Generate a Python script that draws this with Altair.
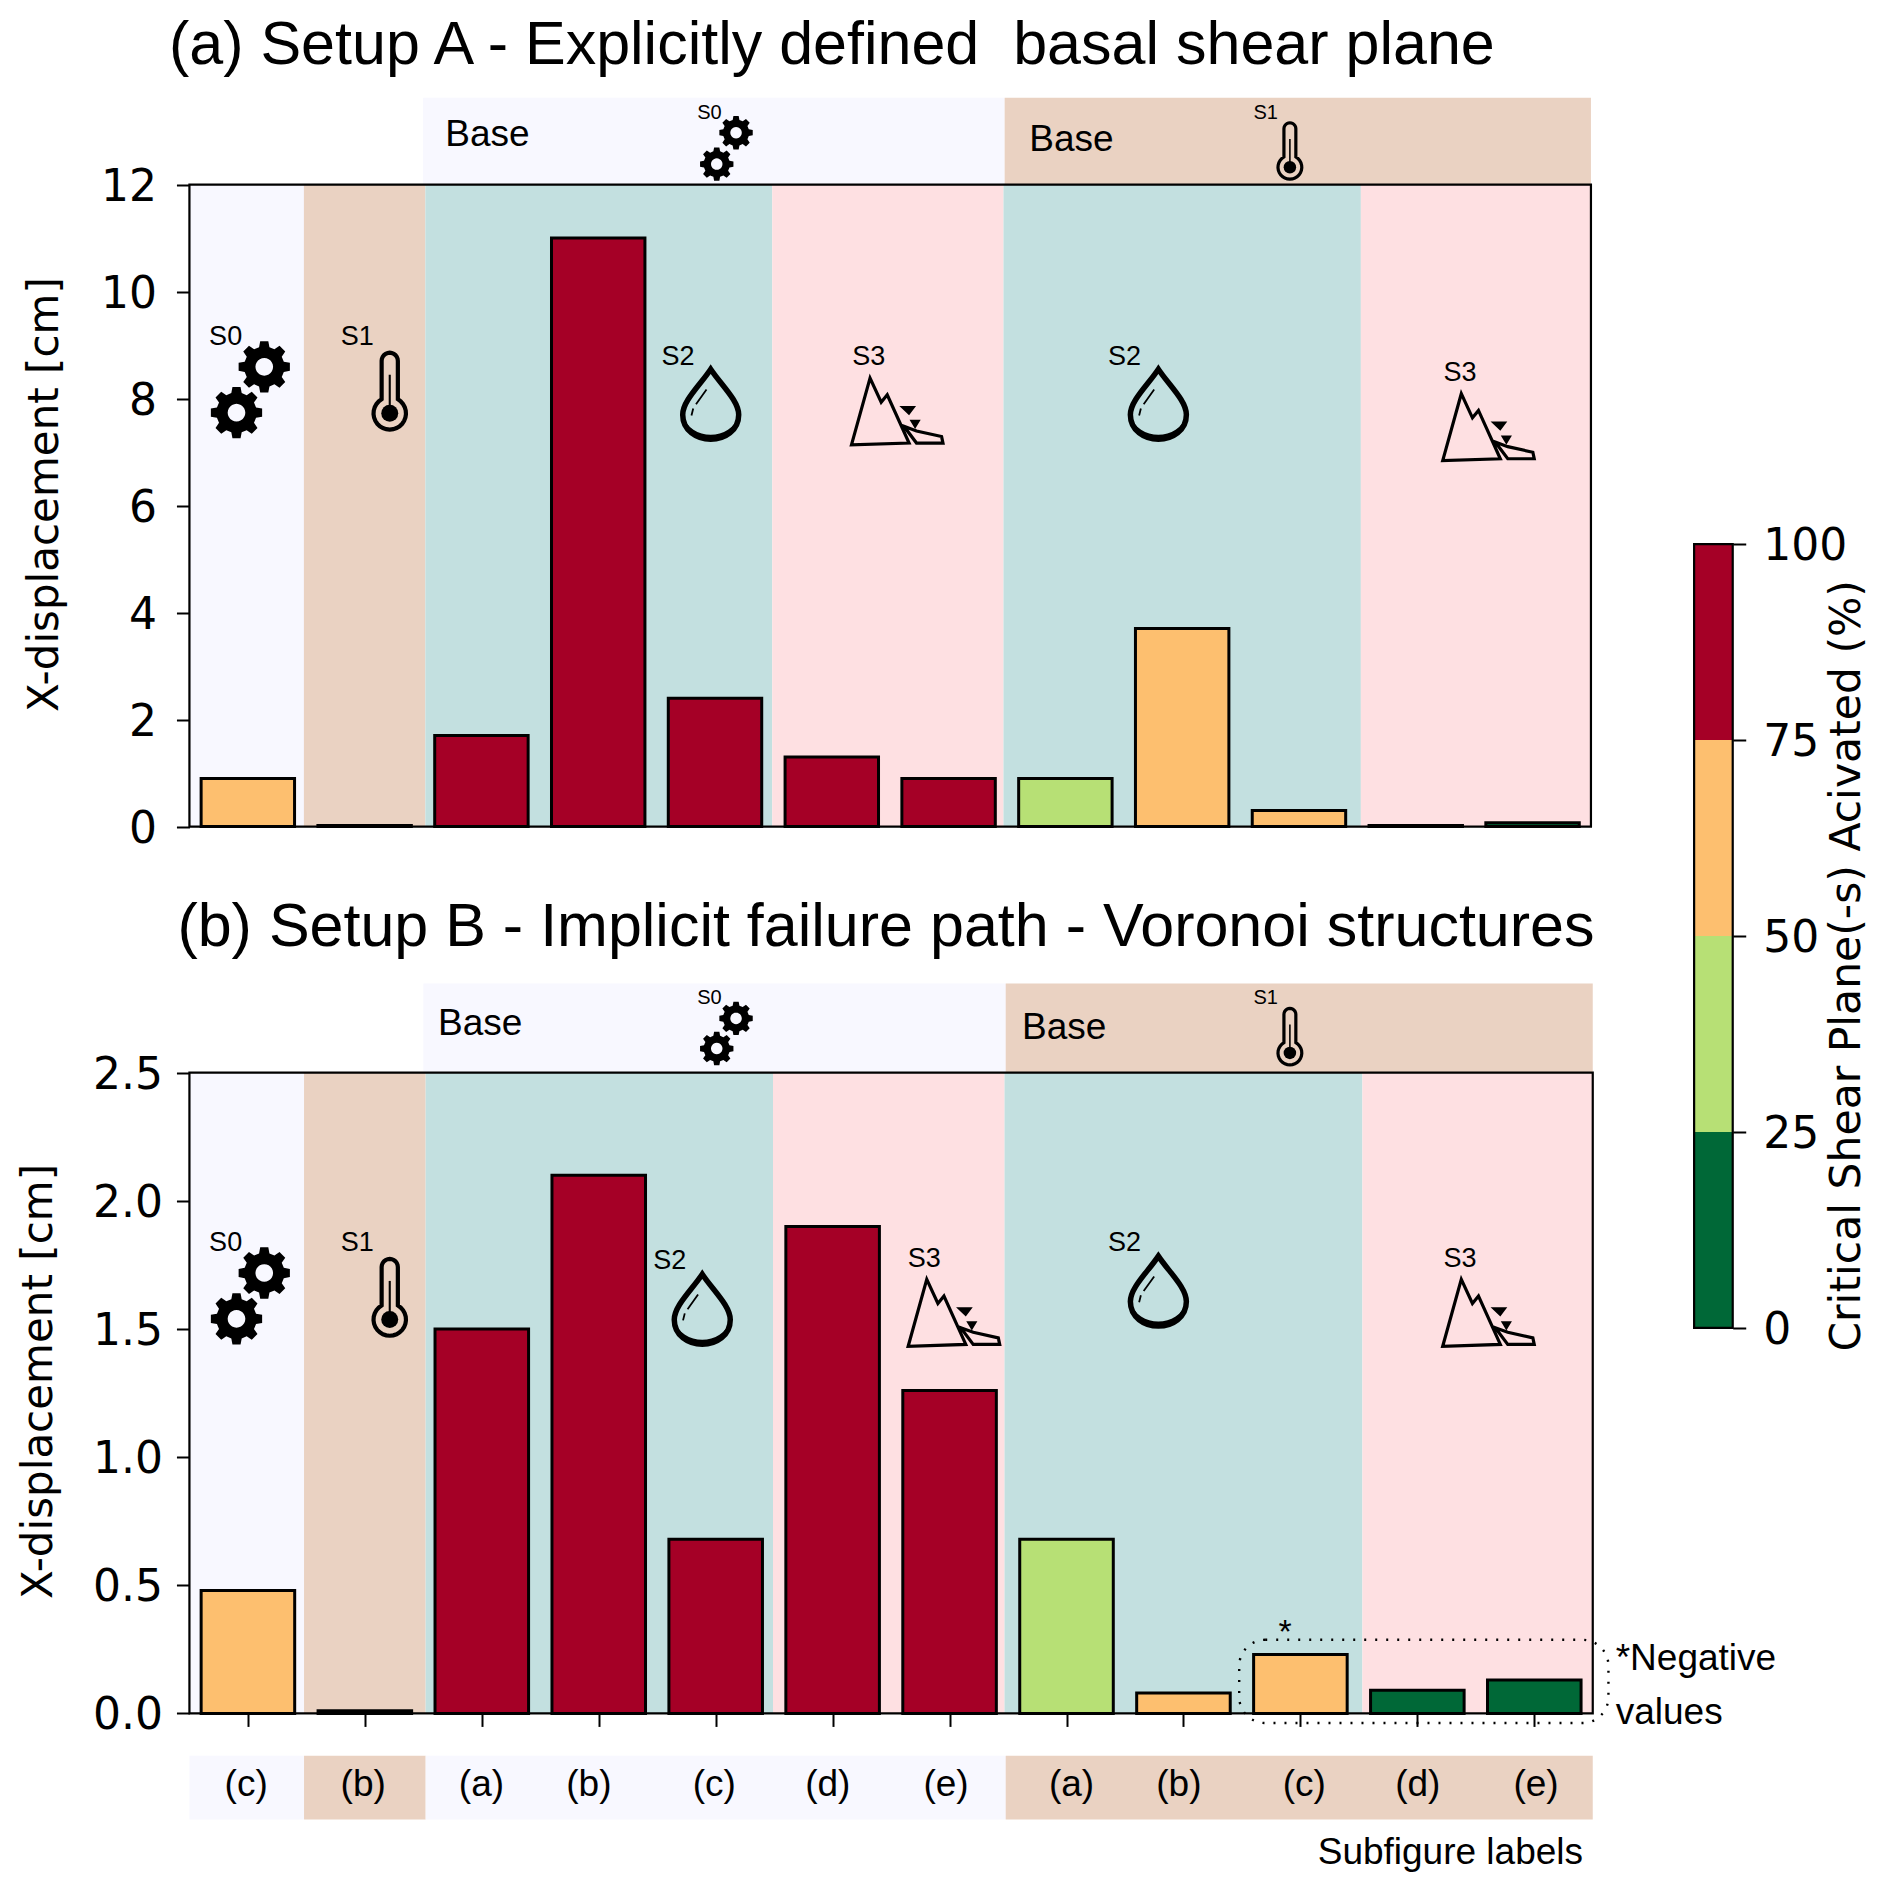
import math
import altair as alt
import pandas as pd

# ---- data -----------------------------------------------------------------
positions = list(range(12))
disp_a = [0.9, 0.02, 1.7, 11.0, 2.4, 1.3, 0.9, 0.9, 3.7, 0.3, 0.02, 0.07]
act_a = [60, 60, 90, 90, 90, 90, 90, 40, 60, 60, 10, 10]
disp_b = [0.48, 0.01, 1.5, 2.1, 0.68, 1.9, 1.26, 0.68, 0.08, 0.23, 0.09, 0.13]
act_b = [60, 10, 90, 90, 90, 90, 90, 40, 60, 60, 10, 10]
bin_low = [0, 25, 50, 75]
bin_high = [25, 50, 75, 100]
bin_colors = ["#006837", "#b7e075", "#fdbf6f", "#a50026"]
cbar_ticks = [0, 25, 50, 75, 100]
yticks_a = [0, 2, 4, 6, 8, 10, 12]
yticks_b = [0, 0.5, 1, 1.5, 2, 2.5]
LAV, TAN, TEAL, PINK = "#f8f8ff", "#ead2c2", "#c3e0e0", "#fee0e2"
band_start = [-0.5, 0.48, 1.52, 4.49, 6.47, 9.53]
band_end = [0.48, 1.52, 4.49, 6.47, 9.53, 11.5]
band_color = [LAV, TAN, TEAL, PINK, TEAL, PINK]
sub_labels = ["(c)", "(b)", "(a)", "(b)", "(c)", "(d)", "(e)", "(a)", "(b)", "(c)", "(d)", "(e)"]
sub_label_x = [204, 301, 399, 488, 592, 686, 784, 888, 977, 1081, 1175, 1273]

W, H = 1876, 1875
S = 1892 / 1568.0
def px(d):
    return d * S - 8

XA = [px(157), px(1318.5)]
YA = [px(685), px(153)]
XB = [px(157), px(1320)]
YB = [px(1420), px(889)]
YC = [px(1100.5), px(451)]
CX = [px(1404), px(1436)]

AX_LABEL = 44
AX_TITLE = 42

def xs(rng):
    return alt.Scale(domain=[-0.5, 11.5], range=rng, nice=False, zero=False)
def ys(dom, rng):
    return alt.Scale(domain=dom, range=rng, nice=False, zero=False)

layers = []

def panel(values, act, ymax, xr, yr, strip_top, title_pos, ticks, fmt, xticks, pad):
    sx, sy = xs(xr), ys([0, ymax], yr)
    unit = (yr[0] - yr[1]) / ymax
    bands = pd.DataFrame({"a": band_start, "b": band_end, "c": band_color, "y0": 0, "y1": ymax})
    layers.append(alt.Chart(bands).mark_rect().encode(
        x=alt.X("a:Q", scale=sx, axis=None), x2="b:Q",
        y=alt.Y("y0:Q", scale=sy, axis=None), y2="y1:Q",
        fill=alt.Fill("c:N", scale=None)))
    top = (yr[0] - px(strip_top)) / unit
    strip = pd.DataFrame({"a": [1.5, 6.48], "b": [6.48, 11.5], "c": [LAV, TAN], "y0": ymax, "y1": top})
    layers.append(alt.Chart(strip).mark_rect().encode(
        x=alt.X("a:Q", scale=sx, axis=None), x2="b:Q",
        y=alt.Y("y0:Q", scale=sy, axis=None), y2="y1:Q",
        fill=alt.Fill("c:N", scale=None)))
    df = pd.DataFrame({"pos": positions, "v": values, "act": act})
    df["l"] = df["pos"] - 0.4
    df["r"] = df["pos"] + 0.4
    df["z"] = 0
    layers.append(alt.Chart(df).mark_rect(stroke="black", strokeWidth=3).encode(
        x=alt.X("l:Q", scale=sx, axis=None), x2="r:Q",
        y=alt.Y("z:Q", scale=sy, axis=None), y2="v:Q",
        fill=alt.Fill("act:Q", legend=None,
                      scale=alt.Scale(type="threshold", domain=[25, 50, 75], range=bin_colors))))
    frame = pd.DataFrame({"a": [-0.5], "b": [11.5], "y0": [0], "y1": [ymax]})
    xaxis = None
    if xticks:
        xaxis = alt.Axis(orient="bottom", offset=yr[0] - H, values=positions, labels=False,
                         title=None, grid=False, tickSize=13, tickWidth=2, tickColor="black",
                         domain=False)
    layers.append(alt.Chart(frame).mark_rect(fillOpacity=0, stroke="black", strokeWidth=2.2).encode(
        x=alt.X("a:Q", scale=sx, axis=xaxis), x2="b:Q",
        y=alt.Y("y0:Q", scale=sy, axis=alt.Axis(
            orient="left", offset=-xr[0], values=ticks, format=fmt, grid=False,
            title="X-displacement [cm]", titleFont="DejaVu Sans", titleFontSize=AX_TITLE,
            titleFontWeight="normal", titleColor="black", titleAngle=270,
            titleAlign="center", titleBaseline="middle",
            titleX=px(title_pos[0]) - xr[0], titleY=px(title_pos[1]),
            labelFont="DejaVu Sans", labelFontSize=AX_LABEL, labelColor="black", labelPadding=pad,
            labelOffset=2.5,
            tickSize=13, tickWidth=2, tickColor="black", domain=True, domainWidth=2, domainColor="black")),
        y2="y1:Q"))

panel(disp_a, act_a, 12, XA, YA, 81, (37, 409.5), yticks_a, "d", False, 20)
panel(disp_b, act_b, 2.5, XB, YB, 815, (32, 1144.5), yticks_b, ".1f", True, 14)

# strip under panel b (same x scale as panel b, y scale of panel b extrapolated)
sxb, syb = xs(XB), ys([0, 2.5], YB)
ub = (YB[0] - YB[1]) / 2.5
bot = pd.DataFrame({"a": [-0.5, 0.48, 1.52, 6.48], "b": [0.48, 1.52, 6.48, 11.5], "c": [LAV, TAN, LAV, TAN],
                    "y0": (YB[0] - px(1455)) / ub, "y1": (YB[0] - px(1508)) / ub})
layers.append(alt.Chart(bot).mark_rect().encode(
    x=alt.X("a:Q", scale=sxb, axis=None), x2="b:Q",
    y=alt.Y("y0:Q", scale=syb, axis=None), y2="y1:Q",
    fill=alt.Fill("c:N", scale=None)))

# colour bar
scb = ys([0, 100], YC)
cb = pd.DataFrame({"lo": bin_low, "hi": bin_high, "c": bin_colors})
layers.append(alt.Chart(cb).mark_rect().encode(
    x=alt.value(CX[0]), x2=alt.value(CX[1]),
    y=alt.Y("lo:Q", scale=scb, axis=None), y2="hi:Q",
    fill=alt.Fill("c:N", scale=None)))
layers.append(alt.Chart(pd.DataFrame({"lo": [0], "hi": [100]})).mark_rect(
    fillOpacity=0, stroke="black", strokeWidth=2.2).encode(
    x=alt.value(CX[0]), x2=alt.value(CX[1]),
    y=alt.Y("lo:Q", scale=scb, axis=alt.Axis(
        orient="right", offset=CX[1] - W, values=cbar_ticks, format="d", grid=False,
        title="Critical Shear Plane(-s) Acivated (%)", titleFont="DejaVu Sans", titleFontSize=42.5,
        titleFontWeight="normal", titleColor="black", titleAngle=270,
        titleAlign="center", titleBaseline="middle",
        titleX=px(1530) - CX[1], titleY=px(800),
        labelFont="DejaVu Sans", labelFontSize=AX_LABEL, labelColor="black", labelPadding=17,
        labelOffset=2.5,
        tickSize=13, tickWidth=2, tickColor="black", domain=False)),
    y2="hi:Q"))

# ---- icons ------------------------------------------------------------------
def poly(points):
    return "M" + "L".join(f"{x:.3f},{y:.3f}" for x, y in points) + "Z"

def gear_path():
    pts = []
    n = 8
    for i in range(n):
        a = 2 * math.pi * i / n
        w = 2 * math.pi / n
        for da, r in [(-0.33, 0.78), (-0.2, 1.0), (0.2, 1.0), (0.33, 0.78)]:
            pts.append((r * math.cos(a + da * w), r * math.sin(a + da * w)))
    hole = [(0.34 * math.cos(-2 * math.pi * i / 24), 0.34 * math.sin(-2 * math.pi * i / 24)) for i in range(24)]
    return poly(pts) + poly(hole)

def thermo_path():
    pts = []
    for i in range(13):
        a = math.pi + math.pi * i / 12
        pts.append((0.21 * math.cos(a), -0.78 + 0.21 * math.sin(a)))
    start = math.asin(0.21 / 0.42)
    for i in range(25):
        a = -math.pi / 2 + start + (2 * math.pi - 2 * start) * i / 24
        pts.append((0.42 * math.cos(a), 0.58 + 0.42 * math.sin(a)))
    return poly(pts)

GEAR = gear_path()
THERMO = thermo_path()
THERMO_STEM = "M0,-0.42L0,0.45"
DROP = "M0,-1C0.3,-0.55 0.8,-0.1 0.8,0.3C0.8,0.75 0.4,1 0,1C-0.4,1 -0.8,0.75 -0.8,0.3C-0.8,-0.1 -0.3,-0.55 0,-1Z"
DROP_BASE = "M0.8,0.3C0.8,0.75 0.4,1 0,1C-0.4,1 -0.8,0.75 -0.8,0.3C-0.7,0.68 -0.35,0.87 0,0.87C0.35,0.87 0.7,0.68 0.8,0.3Z"
DROP_SHINE = "M-0.12,-0.42L-0.42,0M-0.5,0.12L-0.55,0.32"
MOUNT = "M-0.97,0.72L-0.57,-0.72L-0.33,-0.2L-0.2,-0.36L0.27,0.68ZM0.16,0.32L0.43,0.42L0.97,0.54L1,0.68L0.43,0.68Z"
MOUNT_ROCK = "M0.06,-0.12L0.42,-0.12L0.27,0.08ZM0.28,0.18L0.52,0.18L0.4,0.38Z"

def icon(shape, x, y, span, filled=True, sw=0):
    size = (span * S) ** 2
    kw = dict(shape=shape, size=size, opacity=1)
    if filled:
        kw.update(filled=True, color="black", strokeWidth=0)
    else:
        kw.update(filled=False, color="black", strokeWidth=sw)
    layers.append(alt.Chart().mark_point(**kw).encode(x=alt.value(px(x)), y=alt.value(px(y))))

def gears(x1, y1, x2, y2, span):
    icon(GEAR, x1, y1, span)
    icon(GEAR, x2, y2, span)

def thermo(x, y, h, sw):
    icon(THERMO, x, y, h, False, sw)
    icon(THERMO_STEM, x, y, h, False, sw * 0.5)
    icon("circle", x, y + h * 0.29, h * 0.22)

def drop(x, y):
    icon(DROP, x, y, 58, False, 5.5)
    icon(DROP_BASE, x, y, 58)
    icon(DROP_SHINE, x, y, 58, False, 1.8)

def mount(x, y):
    icon(MOUNT, x, y, 77, False, 3.2)
    icon(MOUNT_ROCK, x, y, 77)

gears(219, 304, 196, 342, 43)
gears(610, 110, 594, 136, 28)
gears(219, 1055, 196, 1093, 43)
gears(610, 844, 594, 869, 28)
thermo(323, 324, 64, 4.2)
thermo(1069, 125, 47, 3.2)
thermo(323, 1075, 64, 4.2)
thermo(1069, 859, 47, 3.2)
drop(589, 335)
drop(960, 335)
drop(582, 1085)
drop(960, 1070)
mount(743, 341)
mount(1233, 354)
mount(790, 1088)
mount(1233, 1088)

# dotted outline around the negative values
layers.append(alt.Chart().mark_rect(fillOpacity=0, stroke="black", strokeWidth=2.4,
                                    strokeDash=[2, 9], cornerRadius=26).encode(
    x=alt.value(px(1027)), x2=alt.value(px(1333)), y=alt.value(px(1359)), y2=alt.value(px(1428))))

# ---- text --------------------------------------------------------------------
ARIAL = "Liberation Sans"
texts = [
    (140, 38, "(a) Setup A - Explicitly defined \u00a0basal shear plane", 61, "left"),
    (147, 769, "(b) Setup B - Implicit failure path - Voronoi structures", 61, "left"),
    (404, 112, "Base", 37, "center"), (888, 116, "Base", 37, "center"),
    (398, 849, "Base", 37, "center"), (882, 852, "Base", 37, "center"),
    (187, 279, "S0", 27, "center"), (296, 279, "S1", 27, "center"),
    (562, 296, "S2", 27, "center"), (720, 296, "S3", 27, "center"),
    (932, 296, "S2", 27, "center"), (1210, 309, "S3", 27, "center"),
    (588, 94, "S0", 20, "center"), (1049, 94, "S1", 20, "center"),
    (187, 1030, "S0", 27, "center"), (296, 1030, "S1", 27, "center"),
    (555, 1045, "S2", 27, "center"), (766, 1043, "S3", 27, "center"),
    (932, 1030, "S2", 27, "center"), (1210, 1043, "S3", 27, "center"),
    (588, 827, "S0", 20, "center"), (1049, 827, "S1", 20, "center"),
    (1065, 1353, "*", 34, "center"),
    (1339, 1375, "*Negative", 37, "left"), (1339, 1420, "values", 37, "left"),
    (1202, 1536, "Subfigure labels", 37, "center"),
]
for lx, lab in zip(sub_label_x, sub_labels):
    texts.append((lx, 1479, lab, 37, "center"))

for x, y, t, size, align in texts:
    layers.append(alt.Chart().mark_text(text=t, font=ARIAL, fontSize=size, align=align,
                                        baseline="middle", color="black").encode(
        x=alt.value(px(x)), y=alt.value(px(y))))

chart = alt.layer(*layers).resolve_scale(x="independent", y="independent", fill="independent").properties(
    width=W, height=H, padding=0, background="white",
    autosize=alt.AutoSizeParams(type="none")).configure_view(stroke=None)

chart.save("out.html", embed_options={"renderer": "svg", "actions": False})
